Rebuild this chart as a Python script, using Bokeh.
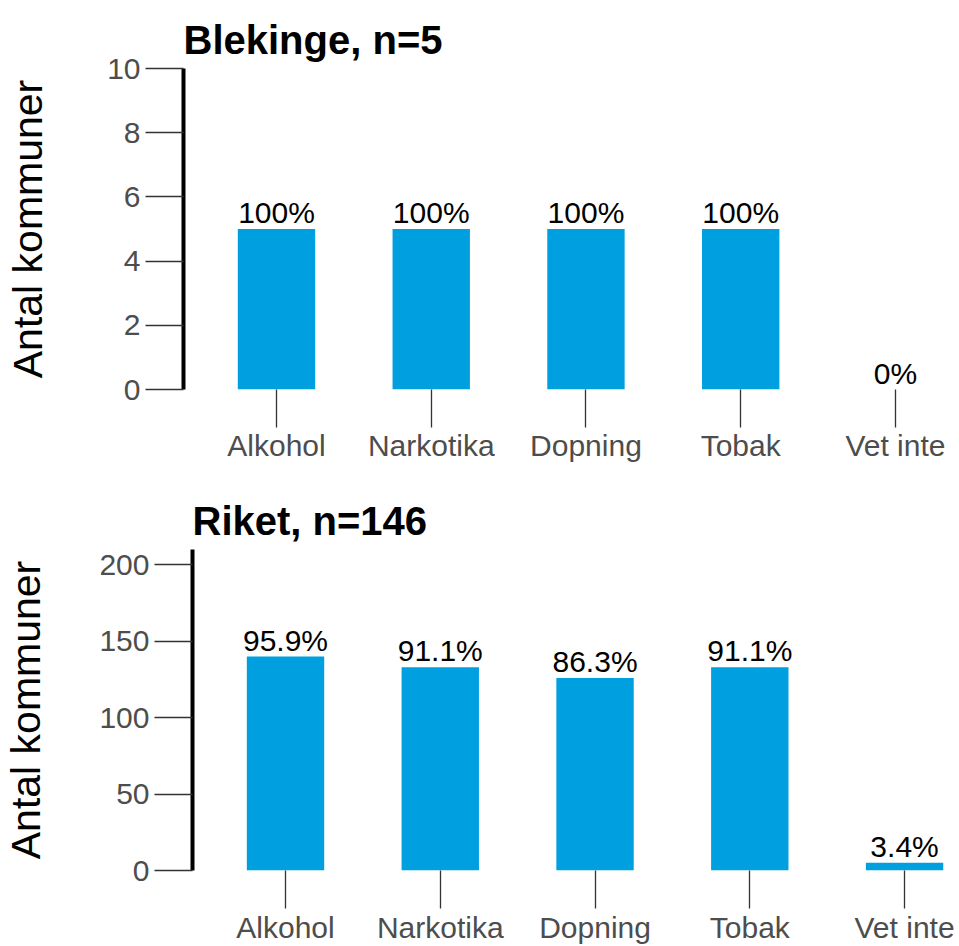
from bokeh.plotting import figure
from bokeh.models import ColumnDataSource, LabelSet, Range1d, FixedTicker
from bokeh.core.properties import value
from bokeh.embed import file_html
from bokeh.resources import INLINE

# ---- data ----
categories = ["Alkohol", "Narkotika", "Dopning", "Tobak", "Vet inte"]

blekinge_title = "Blekinge, n=5"
blekinge_counts = [5, 5, 5, 5, 0]
blekinge_labels = ["100%", "100%", "100%", "100%", "0%"]
blekinge_yticks = [0, 2, 4, 6, 8, 10]

riket_title = "Riket, n=146"
riket_counts = [140, 133, 126, 133, 5]
riket_labels = ["95.9%", "91.1%", "86.3%", "91.1%", "3.4%"]
riket_yticks = [0, 50, 100, 150, 200]

y_label = "Antal kommuner"

# ---- style ----
BAR = "#009FE0"
FONT = "Liberation Sans"
GREY = "#4D4D4D"


def panel(title, counts, labels, yticks, y_end, x_start, x_end,
          height, b_left, b_top, b_bottom, label_standoff, x_lab_standoff):
    xs = list(range(1, len(categories) + 1))
    src = ColumnDataSource(dict(x=xs, count=counts, lab=labels))
    p = figure(width=959, height=height, output_backend="svg",
               toolbar_location=None, x_range=Range1d(x_start, x_end),
               y_range=Range1d(0, y_end), min_border_left=b_left,
               min_border_right=0, min_border_top=b_top,
               min_border_bottom=b_bottom)
    p.vbar(x="x", top="count", bottom=0, width=0.5, source=src,
           fill_color=BAR, line_color=None)
    p.add_layout(LabelSet(x="x", y="count", text="lab", source=src,
                          text_align="center", text_baseline="alphabetic",
                          y_offset=6, text_font=value(FONT),
                          text_font_size="30px", text_color="black"))
    p.title.text = title
    p.title.text_font = FONT
    p.title.text_font_size = "40px"
    p.title.text_font_style = "bold"
    p.title.text_color = "black"
    p.title.align = "left"
    p.title.vertical_align = "top"
    p.title.standoff = 10
    p.outline_line_color = None
    p.xgrid.visible = False
    p.ygrid.visible = False

    xa = p.xaxis[0]
    xa.ticker = FixedTicker(ticks=xs)
    xa.major_label_overrides = {i: c for i, c in zip(xs, categories)}
    xa.axis_line_color = None
    xa.minor_tick_line_color = None
    xa.major_tick_in = 0
    xa.major_tick_out = 38
    xa.major_tick_line_color = "#333333"
    xa.major_tick_line_width = 1.3
    xa.major_label_standoff = x_lab_standoff
    xa.major_label_text_font = FONT
    xa.major_label_text_font_size = "30px"
    xa.major_label_text_color = GREY

    ya = p.yaxis[0]
    ya.ticker = FixedTicker(ticks=yticks)
    ya.axis_line_color = "black"
    ya.axis_line_width = 4
    ya.minor_tick_line_color = None
    ya.major_tick_in = 0
    ya.major_tick_out = 38
    ya.major_tick_line_color = "#333333"
    ya.major_tick_line_width = 1.3
    ya.major_label_standoff = 5
    ya.major_label_text_font = FONT
    ya.major_label_text_font_size = "30px"
    ya.major_label_text_color = GREY
    ya.axis_label = y_label
    ya.axis_label_text_font = FONT
    ya.axis_label_text_font_size = "41px"
    ya.axis_label_text_font_style = "normal"
    ya.axis_label_text_color = "black"
    ya.axis_label_standoff = label_standoff
    return p


p1 = panel(blekinge_title, blekinge_counts, blekinge_labels, blekinge_yticks,
           10, 0.399, 5.414, 464, 183, 68, 74, 53, 1)
p2 = panel(riket_title, riket_counts, riket_labels, riket_yticks,
           210, 0.399, 5.355, 482, 192, 85, 76, 47, 2)

open("out.html", "w").write(file_html([p1, p2], INLINE))
